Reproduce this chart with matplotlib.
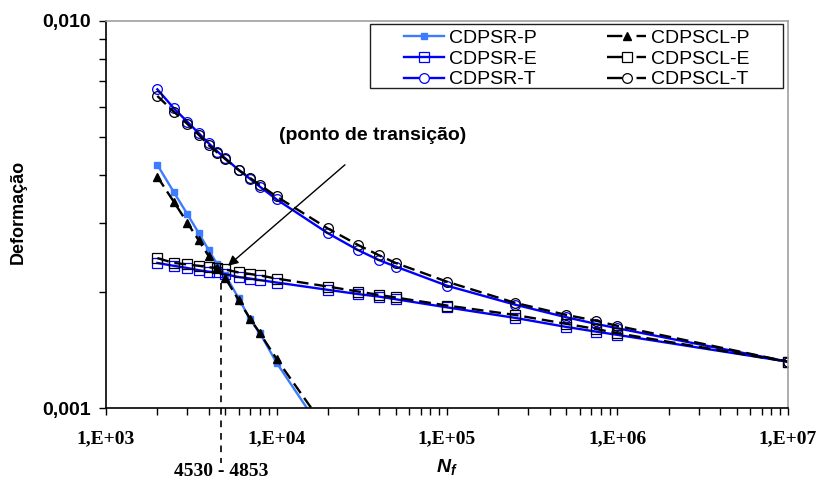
import matplotlib
matplotlib.use("Agg")
import matplotlib.pyplot as plt
from matplotlib.patches import Rectangle
from matplotlib.ticker import LogLocator, NullFormatter, FixedFormatter, FixedLocator

# ---- data (strain x 1e-3) ---------------------------------------------------
N_SHORT = [2000, 2500, 3000, 3500, 4000, 4500, 5000, 6000, 7000, 8000, 10000, 20000]
N_LONG = [2000, 2500, 3000, 3500, 4000, 4500, 5000, 6000, 7000, 8000, 10000,
          20000, 30000, 40000, 50000, 100000, 250000, 500000, 750000, 1000000, 10000000]

SR_P = [4.25, 3.61, 3.17, 2.83, 2.56, 2.35, 2.21, 1.92, 1.695, 1.56, 1.31, 0.83]
SCL_P = [3.96, 3.41, 3.01, 2.71, 2.47, 2.30, 2.17, 1.90, 1.70, 1.56, 1.34, 0.87]

SR_E = [2.37, 2.33, 2.30, 2.27, 2.25, 2.24, 2.215, 2.18, 2.16, 2.14, 2.11,
        2.02, 1.97, 1.94, 1.91, 1.82, 1.71, 1.62, 1.575, 1.545, 1.317]
SCL_E = [2.44, 2.37, 2.35, 2.33, 2.31, 2.30, 2.28, 2.24, 2.22, 2.20, 2.16,
         2.06, 2.00, 1.96, 1.93, 1.84, 1.74, 1.65, 1.60, 1.56, 1.317]

SR_T = [6.66, 5.95, 5.49, 5.13, 4.83, 4.60, 4.42, 4.12, 3.91, 3.73, 3.46,
        2.83, 2.56, 2.41, 2.32, 2.07, 1.85, 1.716, 1.649, 1.607, 1.317]
SCL_T = [6.40, 5.83, 5.42, 5.08, 4.78, 4.57, 4.40, 4.12, 3.93, 3.77, 3.52,
         2.91, 2.64, 2.48, 2.37, 2.12, 1.87, 1.74, 1.68, 1.63, 1.317]

N_TRANS = 4750          # transition marker on the N axis
TRANS_LABEL = "4530 - 4853"
X_TICKS = [1e3, 1e4, 1e5, 1e6, 1e7]
X_LABELS = ["1,E+03", "1,E+04", "1,E+05", "1,E+06", "1,E+07"]
Y_TICKS = [0.001, 0.01]
Y_LABELS = ["0,001", "0,010"]

def scale(v):
    return [a * 1e-3 for a in v]

plt.rcParams.update({
    "font.family": "sans-serif",
    "font.sans-serif": ["Liberation Sans", "DejaVu Sans"],
    "mathtext.fontset": "custom",
    "mathtext.it": "Liberation Sans:italic:bold",
    "mathtext.rm": "Liberation Sans:bold",
})

BLUE_L = "#3d7cff"
BLUE = "#0000ff"
DASH = (5, 2.5)

fig = plt.figure(figsize=(8.2, 4.84), dpi=100)
ax = fig.add_axes([106 / 820, 1 - 408 / 484, 682 / 820, 387 / 484])

ax.plot(N_SHORT, scale(SR_P), color=BLUE_L, lw=1.7, marker="s", ms=5,
        mfc=BLUE_L, mec=BLUE_L, label="CDPSR-P")
ax.plot(N_LONG, scale(SR_E), color=BLUE, lw=1.7, marker="s", ms=6.5,
        mfc="none", mec=BLUE, mew=0.9, label="CDPSR-E")
ax.plot(N_LONG, scale(SR_T), color=BLUE, lw=1.7, marker="o", ms=7,
        mfc="none", mec=BLUE, mew=0.9, label="CDPSR-T")
ax.plot(N_SHORT, scale(SCL_P), color="black", lw=1.7, dashes=DASH, marker="^", ms=5.5,
        mfc="black", mec="black", label="CDPSCL-P")
ax.plot(N_LONG, scale(SCL_E), color="black", lw=1.7, dashes=DASH, marker="s", ms=6.5,
        mfc="none", mec="black", mew=0.9, label="CDPSCL-E")
ax.plot(N_LONG, scale(SCL_T), color="black", lw=1.7, dashes=DASH, marker="o", ms=7,
        mfc="none", mec="black", mew=0.9, label="CDPSCL-T")

ax.set_xscale("log")
ax.set_yscale("log")
ax.set_xlim(1e3, 1e7)
ax.set_ylim(1e-3, 1e-2)

ax.xaxis.set_major_locator(FixedLocator(X_TICKS))
ax.xaxis.set_major_formatter(FixedFormatter(X_LABELS))
ax.xaxis.set_minor_locator(LogLocator(base=10, subs=range(2, 10)))
ax.xaxis.set_minor_formatter(NullFormatter())
ax.yaxis.set_major_locator(FixedLocator(Y_TICKS))
ax.yaxis.set_major_formatter(FixedFormatter(Y_LABELS))
ax.yaxis.set_minor_locator(LogLocator(base=10, subs=range(2, 10)))
ax.yaxis.set_minor_formatter(NullFormatter())

ax.tick_params(axis="x", which="both", direction="out", length=5, width=1, pad=11)
ax.tick_params(axis="y", which="both", direction="out", length=5, width=1, pad=6)
for lab in ax.get_xticklabels():
    lab.set_fontfamily("Liberation Serif")
    lab.set_fontweight("bold")
    lab.set_fontsize(14)
for lab in ax.get_yticklabels():
    lab.set_fontweight("bold")
    lab.set_fontsize(14)

for s in ("top", "right"):
    ax.spines[s].set_color("#a0a0a0")
    ax.spines[s].set_linewidth(1.2)
for s in ("left", "bottom"):
    ax.spines[s].set_linewidth(1.2)

# transition marker
ax.plot([N_TRANS, N_TRANS], [2.1e-3, 0.72e-3], color="black", lw=1.2,
        dashes=(4, 3.5), clip_on=False, zorder=5)
ax.annotate("", xy=(5190, 2.33e-3), xytext=(25200, 4.25e-3),
            arrowprops=dict(arrowstyle="-|>", color="black", lw=1.0,
                            mutation_scale=15, shrinkA=0, shrinkB=0))
ax.text(36500, 5.05e-3, "(ponto de transição)", ha="center", va="center",
        fontsize=14, fontweight="bold")

fig.text(221 / 820, 1 - 472 / 484, TRANS_LABEL, ha="center", va="center",
         fontfamily="Liberation Serif", fontweight="bold", fontsize=14)
fig.text(447 / 820, 1 - 467 / 484, r"$N_f$", ha="center", va="center", fontsize=14)
fig.text(18 / 820, 1 - 212 / 484, "Deformação", rotation=90, ha="center", va="center",
         fontsize=13, fontweight="bold")

# legend: drawn frame + frameless legend centred inside it
ax.add_patch(Rectangle((370 / 820, 1 - 88 / 484), 413 / 820, 64 / 484,
                       transform=fig.transFigure, facecolor="white",
                       edgecolor="#202020", linewidth=1.0, zorder=8, clip_on=False))
leg = ax.legend(ncol=2, loc="center", bbox_to_anchor=(577 / 820, 1 - 59 / 484),
                bbox_transform=fig.transFigure, fontsize=14, frameon=False,
                borderpad=0, labelspacing=0.15, handlelength=2.05,
                handletextpad=0.25, columnspacing=3.6)
leg.set_zorder(10)
for line in leg.get_lines():
    if line.get_color() == "black":
        line.set_dashes((6.5, 6.0))
    else:
        line.set_linestyle("-")
    if line.get_marker() == "o":
        line.set_markerfacecolor("white")

fig.savefig("out.png", dpi=100, facecolor="white")
